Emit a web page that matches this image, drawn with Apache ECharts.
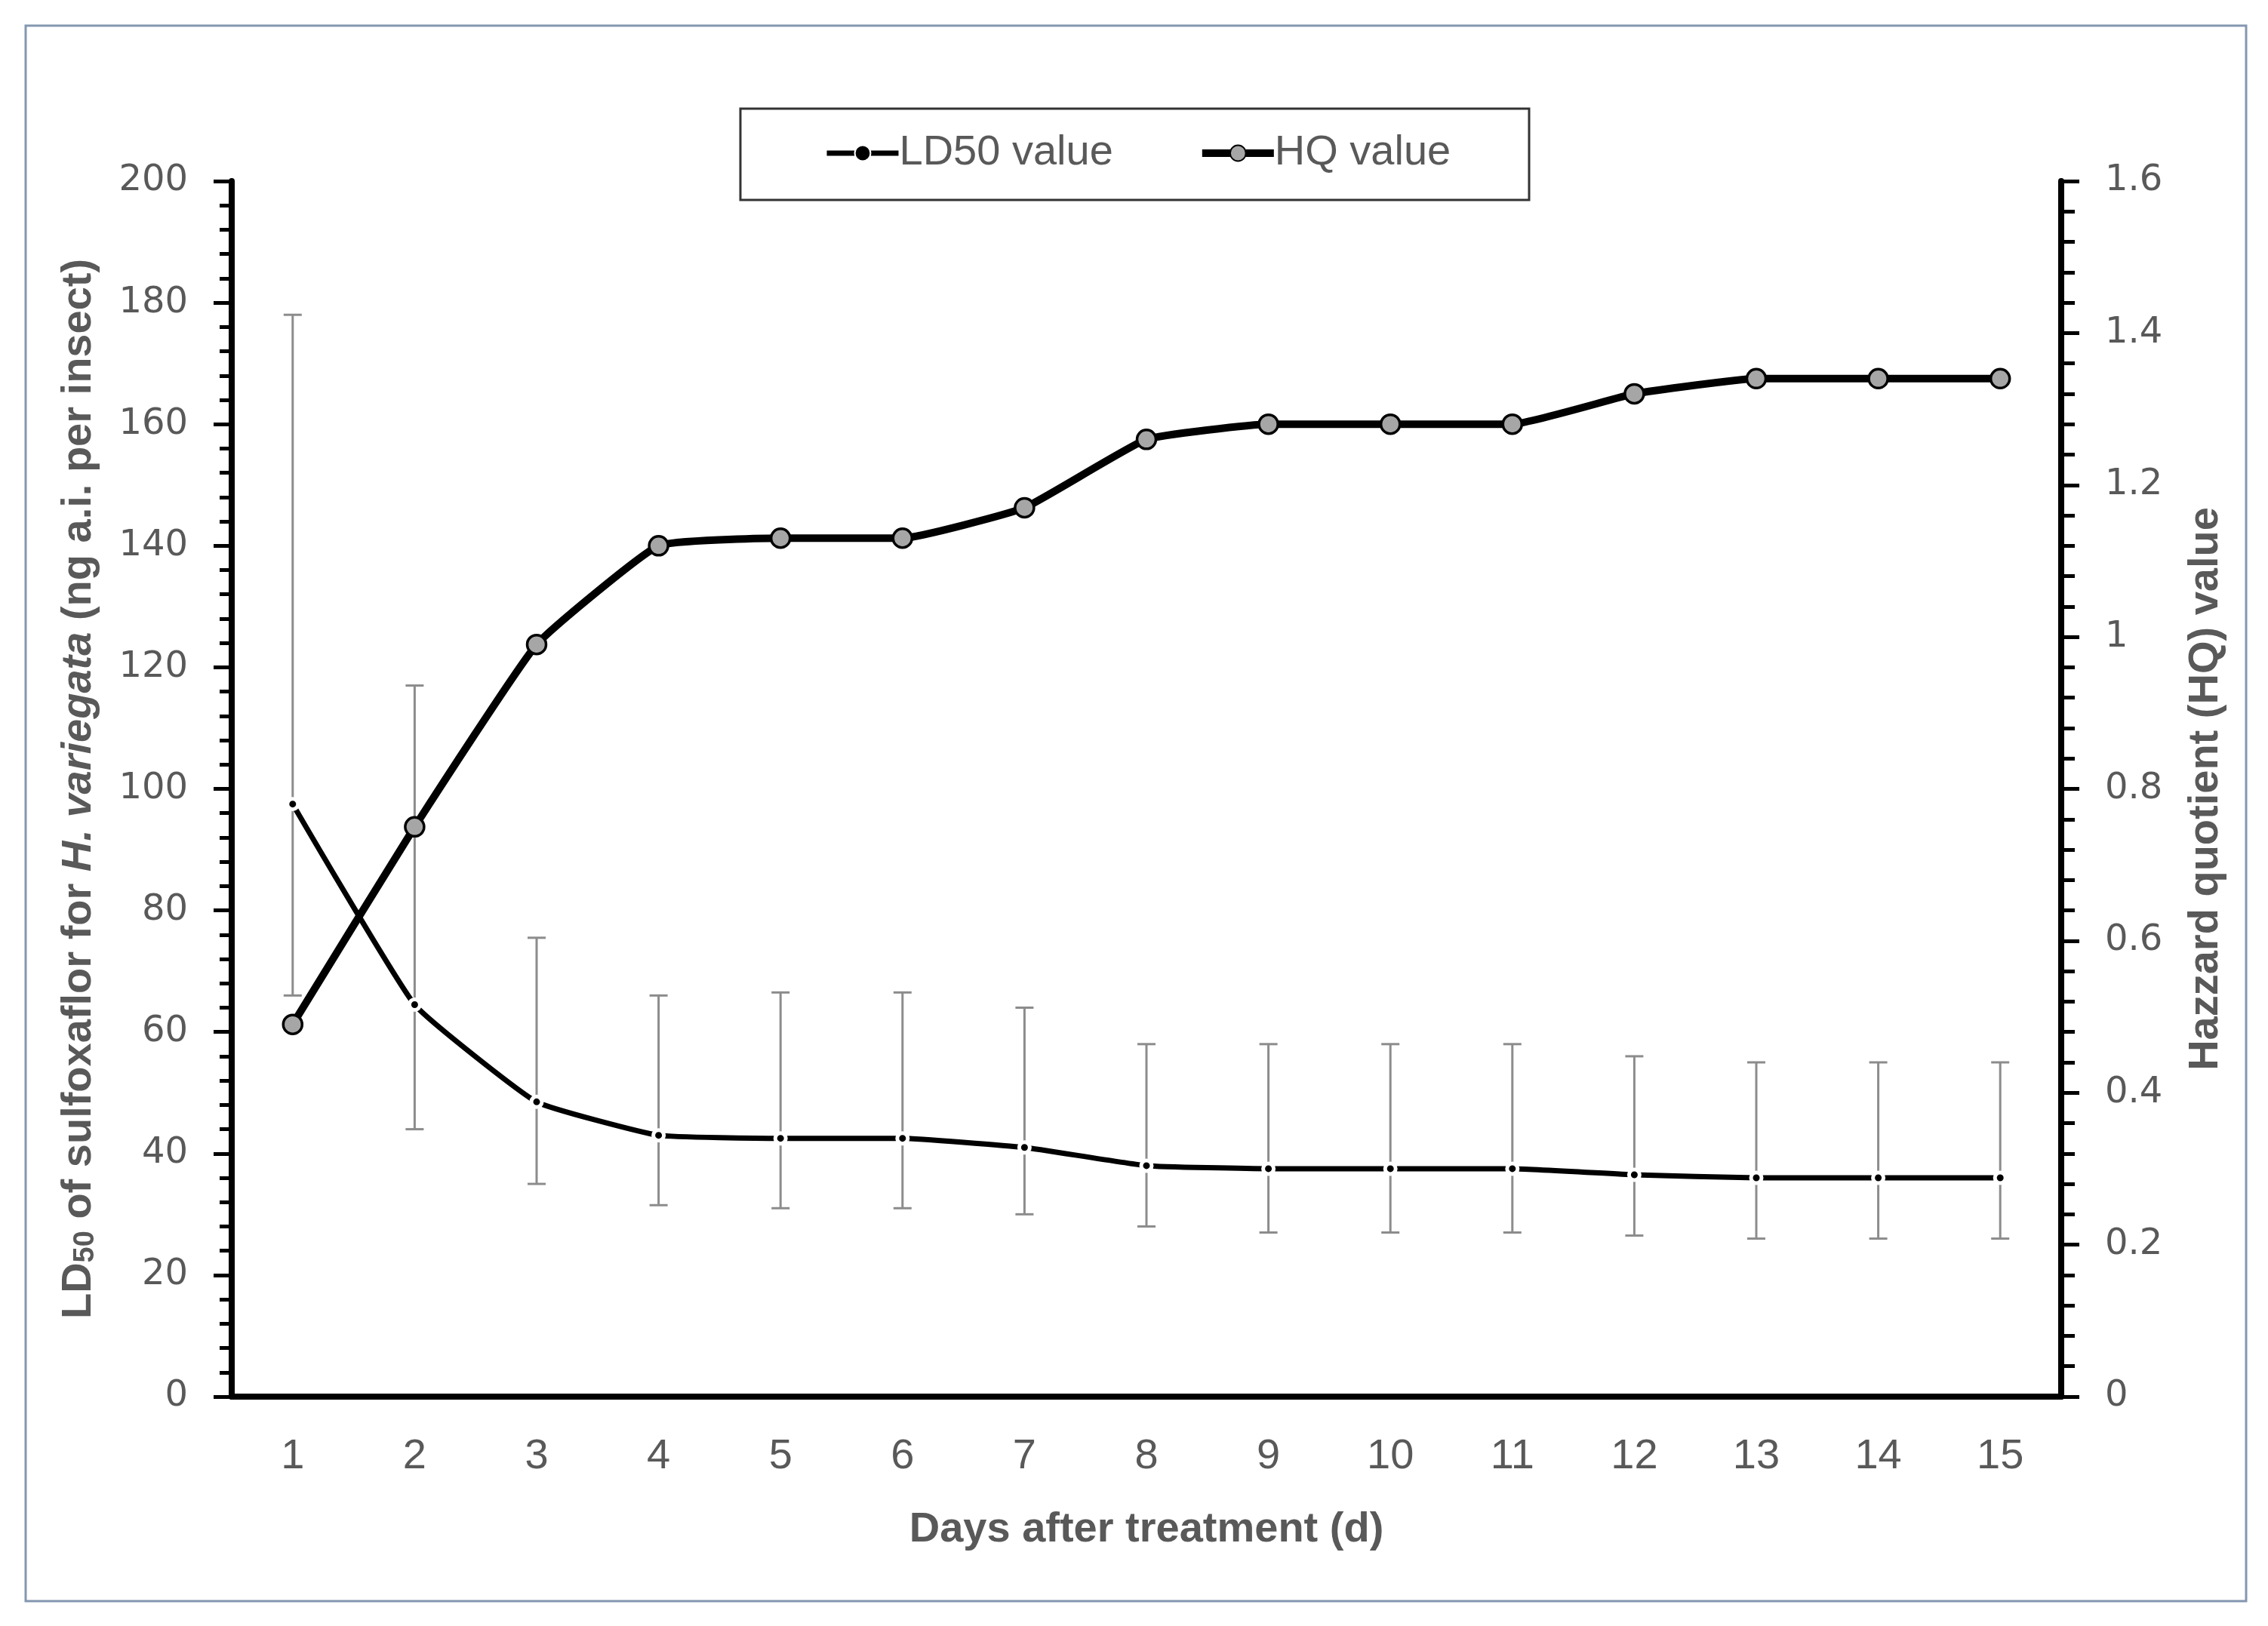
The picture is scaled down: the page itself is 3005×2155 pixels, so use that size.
<!DOCTYPE html>
<html>
<head>
<meta charset="utf-8">
<script src="https://cdn.jsdelivr.net/npm/echarts@6/dist/echarts.min.js"></script>
<style>
html,body{margin:0;padding:0;background:#fff;}
#chart{width:3005px;height:2155px;}
</style>
</head>
<body>
<div id="chart"></div>
<script>
const days = ['1','2','3','4','5','6','7','8','9','10','11','12','13','14','15'];
const ld50 = [97.5, 64.5, 48.5, 43, 42.5, 42.5, 41, 38, 37.5, 37.5, 37.5, 36.5, 36, 36, 36];
const ld50Low = [66, 44, 35, 31.5, 31, 31, 30, 28, 27, 27, 27, 26.5, 26, 26, 26];
const ld50High = [178, 117, 75.5, 66, 66.5, 66.5, 64, 58, 58, 58, 58, 56, 55, 55, 55];
const hq = [0.49, 0.75, 0.99, 1.12, 1.13, 1.13, 1.17, 1.26, 1.28, 1.28, 1.28, 1.32, 1.34, 1.34, 1.34];

const errData = days.map((d, i) => [i, ld50Low[i], ld50High[i]]);
const gray = '#595959';

const chart = echarts.init(document.getElementById('chart'), null, {renderer: 'canvas'});
chart.setOption({
  animation: false,
  backgroundColor: '#ffffff',
  grid: {left: 307, right: 274, top: 240, bottom: 304, containLabel: false},
  graphic: [
    {type: 'rect', shape: {x: 34, y: 34, width: 2942, height: 2088}, style: {fill: 'none', stroke: '#8497B0', lineWidth: 3}, z: 0},
    {type: 'rect', shape: {x: 981, y: 144, width: 1045, height: 121}, style: {fill: 'none', stroke: '#333', lineWidth: 3}, z: 0}
  ],
  legend: {
    data: [
      {name: 'LD50 value', lineStyle: {width: 7, color: '#000'}},
      {name: 'HQ value', lineStyle: {width: 10, color: '#000'}}
    ],
    left: 1092, top: 175, padding: 0,
    itemWidth: 95, itemHeight: 26, itemGap: 113,
    textStyle: {fontFamily: 'Liberation Sans', fontSize: 56, color: gray, padding: [0,0,0,-4]}
  },
  xAxis: {
    type: 'category', data: days, boundaryGap: true,
    name: 'Days after treatment (d)', nameLocation: 'middle', nameGap: 149,
    nameTextStyle: {fontFamily: 'Liberation Sans', fontWeight: 'bold', fontSize: 56, color: gray},
    axisLine: {lineStyle: {color: '#000', width: 8}},
    axisTick: {alignWithLabel: true, length: 14, lineStyle: {color: '#000', width: 5}},
    axisLabel: {fontFamily: 'Liberation Sans', fontSize: 56, color: gray, margin: 52},
    splitLine: {show: false}
  },
  yAxis: [
    {
      type: 'value', min: 0, max: 200, interval: 20, position: 'left',
      name: '{b|LD}{sub|50}{b| of sulfoxaflor for }{bi|H. variegata}{b| (ng a.i. per insect)}',
      nameLocation: 'middle', nameRotate: 90, nameGap: 174,
      nameTextStyle: {
        fontFamily: 'Liberation Sans', fontWeight: 'bold', fontSize: 56, color: gray,
        rich: {
          b: {fontFamily: 'Liberation Sans', fontWeight: 'bold', fontSize: 56, color: gray, lineHeight: 56},
          bi: {fontFamily: 'Liberation Sans', fontWeight: 'bold', fontStyle: 'italic', fontSize: 56, color: gray, lineHeight: 56},
          sub: {fontFamily: 'Liberation Sans', fontWeight: 'bold', fontSize: 38, color: gray, lineHeight: 20, verticalAlign: 'bottom'}
        }
      },
      axisLine: {show: true, lineStyle: {color: '#000', width: 8}},
      axisTick: {show: true, length: 24, lineStyle: {color: '#000', width: 5}},
      minorTick: {show: true, splitNumber: 5, length: 16, lineStyle: {color: '#000', width: 5}},
      axisLabel: {fontFamily: 'DejaVu Sans', fontSize: 48, color: gray, margin: 58},
      splitLine: {show: false}
    },
    {
      type: 'value', min: 0, max: 1.6, interval: 0.2, position: 'right',
      name: 'Hazzard quotient (HQ) value',
      nameLocation: 'middle', nameRotate: 90, nameGap: 164,
      nameTextStyle: {fontFamily: 'Liberation Sans', fontWeight: 'bold', fontSize: 56, color: gray},
      axisLine: {show: true, lineStyle: {color: '#000', width: 8}},
      axisTick: {show: true, length: 24, lineStyle: {color: '#000', width: 5}},
      minorTick: {show: true, splitNumber: 5, length: 18, lineStyle: {color: '#000', width: 5}},
      axisLabel: {fontFamily: 'DejaVu Sans', fontSize: 48, color: gray, margin: 58,
        formatter: v => String(Math.round(v * 10) / 10)},
      splitLine: {show: false}
    }
  ],
  series: [
    {
      name: 'LD50 error', type: 'custom', yAxisIndex: 0,
      data: errData,
      encode: {x: 0, y: [1, 2]},
      renderItem: function (params, api) {
        const x = api.value(0);
        const lo = api.coord([x, api.value(1)]);
        const hi = api.coord([x, api.value(2)]);
        const hw = 12;
        const st = {stroke: '#8c8c8c', lineWidth: 3};
        return {type: 'group', children: [
          {type: 'line', shape: {x1: lo[0], y1: lo[1], x2: hi[0], y2: hi[1]}, style: st},
          {type: 'line', shape: {x1: lo[0] - hw, y1: lo[1], x2: lo[0] + hw, y2: lo[1]}, style: st},
          {type: 'line', shape: {x1: hi[0] - hw, y1: hi[1], x2: hi[0] + hw, y2: hi[1]}, style: st}
        ]};
      },
      z: 1
    },
    {
      name: 'LD50 value', type: 'line', yAxisIndex: 0, data: ld50,
      smooth: 0.12,
      lineStyle: {color: '#000', width: 7},
      symbol: 'circle', symbolSize: 14,
      itemStyle: {color: '#000', borderColor: '#fff', borderWidth: 5},
      z: 2
    },
    {
      name: 'HQ value', type: 'line', yAxisIndex: 1, data: hq,
      smooth: 0.12,
      lineStyle: {color: '#000', width: 10},
      symbol: 'circle', symbolSize: 25,
      itemStyle: {color: '#a6a6a6', borderColor: '#000', borderWidth: 3.5},
      z: 3
    }
  ]
});
</script>
</body>
</html>
